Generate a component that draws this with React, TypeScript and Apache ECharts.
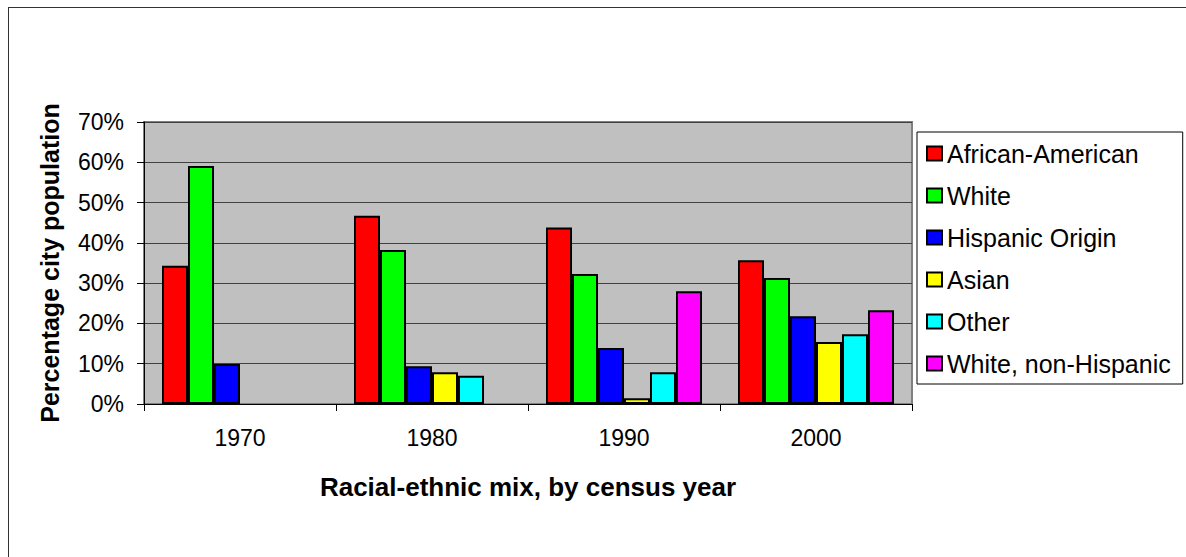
import React, { useEffect, useRef } from "react";
import * as echarts from "echarts";

// Census years on the category axis
const years = ["1970", "1980", "1990", "2000"];

// Share of city population (%) per group and census year
const africanAmerican = [34.3, 46.7, 43.8, 35.7];
const white = [59.1, 38.2, 32.3, 31.3];
const hispanicOrigin = [9.9, 9.4, 13.9, 21.8];
const asian = [null, 7.9, 1.4, 15.4];
const other = [null, 7.0, 7.9, 17.3];
const whiteNonHispanic = [null, null, 28.0, 23.3];

const groupNames = [
  "African-American",
  "White",
  "Hispanic Origin",
  "Asian",
  "Other",
  "White, non-Hispanic",
];
const groupValues = [africanAmerican, white, hispanicOrigin, asian, other, whiteNonHispanic];
const groupColors = ["#ff0000", "#00ff00", "#0000ff", "#ffff00", "#00ffff", "#ff00ff"];

const FONT = "'Liberation Sans', Arial, Helvetica, sans-serif";

export default function App() {
  const ref = useRef<HTMLDivElement>(null);

  useEffect(() => {
    if (!ref.current) return;
    const chart = echarts.init(ref.current, null, { renderer: "svg" });

    chart.setOption({
      animation: false,
      backgroundColor: "#ffffff",
      textStyle: { fontFamily: FONT },
      grid: {
        left: 144,
        top: 122,
        right: 274,
        bottom: 153,
        show: true,
        backgroundColor: "#c0c0c0",
        borderColor: "#808080",
        borderWidth: 2,
      },
      legend: {
        orient: "vertical",
        left: 917,
        top: 132,
        padding: [9, 12, 8, 9],
        itemWidth: 15,
        itemHeight: 14,
        itemGap: 17,
        icon: "rect",
        backgroundColor: "#ffffff",
        borderColor: "#000000",
        borderWidth: 1,
        textStyle: { fontFamily: FONT, fontSize: 25, lineHeight: 25, color: "#000" },
        data: groupNames,
      },
      xAxis: {
        type: "category",
        data: years,
        name: "Racial-ethnic mix, by census year",
        nameLocation: "middle",
        nameGap: 70,
        nameTextStyle: { fontFamily: FONT, fontSize: 26, fontWeight: "bold", color: "#000" },
        axisLine: { lineStyle: { color: "#000", width: 1 } },
        axisTick: { show: true, length: 7, lineStyle: { color: "#000" } },
        axisLabel: { fontFamily: FONT, fontSize: 23, color: "#000", margin: 22 },
        splitLine: { show: false },
      },
      yAxis: {
        type: "value",
        min: 0,
        max: 70,
        interval: 10,
        name: "Percentage city population",
        nameLocation: "middle",
        nameGap: 82,
        nameTextStyle: { fontFamily: FONT, fontSize: 25, fontWeight: "bold", color: "#000" },
        axisLine: { show: true, lineStyle: { color: "#000", width: 1 } },
        axisTick: { show: true, length: 7, lineStyle: { color: "#000" } },
        axisLabel: {
          fontFamily: FONT,
          fontSize: 23,
          color: "#000",
          margin: 20,
          formatter: "{value}%",
        },
        splitLine: { show: true, lineStyle: { color: "#404040", width: 1 } },
      },
      series: groupNames.map((name, i) => ({
        name,
        type: "bar",
        data: groupValues[i],
        barGap: "0%",
        barCategoryGap: "18.75%",
        itemStyle: { color: groupColors[i], borderColor: "#000", borderWidth: 2 },
      })),
      graphic: [
        {
          type: "line",
          shape: { x1: 8, y1: 7.5, x2: 1186, y2: 7.5 },
          style: { stroke: "#333", lineWidth: 1 },
        },
        {
          type: "line",
          shape: { x1: 8.5, y1: 7, x2: 8.5, y2: 557 },
          style: { stroke: "#333", lineWidth: 1 },
        },
      ],
    });

    return () => chart.dispose();
  }, []);

  return (
    <div
      ref={ref}
      style={{ position: "fixed", left: 0, top: 0, width: 1186, height: 557, background: "#fff" }}
    />
  );
}
